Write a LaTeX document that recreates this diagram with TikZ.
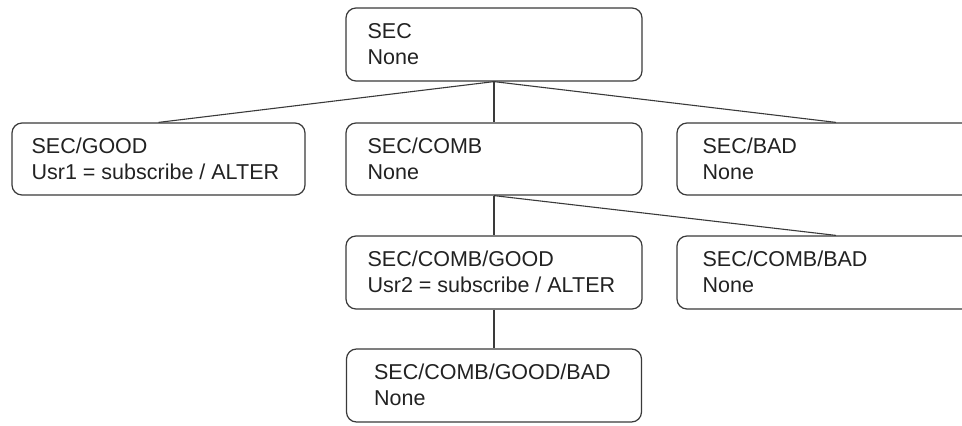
\documentclass[tikz,border=0pt]{standalone}
\usepackage{fontspec}
\setmainfont{Liberation Sans}
\usetikzlibrary{calc}
\definecolor{edgec}{HTML}{3A3A3A}
\definecolor{txtc}{HTML}{222222}
\begin{document}
\begin{tikzpicture}[x=1pt,y=-1pt,
  box/.style={draw=edgec,line width=1.2pt,rounded corners=10pt,minimum height=73pt,inner sep=0pt,fill=white},
  lbl/.style={anchor=base west,inner sep=0pt,text=txtc,font=\fontsize{21.5}{26}\selectfont},
  link/.style={draw=edgec,line width=1.1pt}]
\useasboundingbox (0,0) rectangle (962,426);
\clip (0,0) rectangle (962,426);
% boxes
\node[box,minimum width=296pt] (sec) at (494,44.5) {};
\node[box,minimum width=293pt,minimum height=72pt] (good) at (158.5,159) {};
\node[box,minimum width=296pt,minimum height=72pt] (comb) at (494,159) {};
\node[box,minimum width=318pt,minimum height=72pt] (bad) at (836,159) {};
\node[box,minimum width=296pt] (cgood) at (494,272.5) {};
\node[box,minimum width=318pt] (cbad) at (836,272.5) {};
\node[box,minimum width=295pt] (cgb) at (494,385.5) {};
% connectors
\draw[link] (sec.south) -- (good.north);
\draw[link] (sec.south) -- (comb.north);
\draw[link] (sec.south) -- (bad.north);
\draw[link] (comb.south) -- (cgood.north);
\draw[link] (comb.south) -- (cbad.north);
\draw[link] (cgood.south) -- (cgb.north);
% texts
\node[lbl] (t1a) at ($(sec.north west)+(22,31)$) {SEC};
\node[lbl] (t1b) at ($(sec.north west)+(22,57)$) {None};
\node[lbl] (t2a) at ($(good.north west)+(20,31)$) {SEC/GOOD};
\node[lbl] (t2b) at ($(good.north west)+(20,57)$) {Usr1 = subscribe / ALTER};
\node[lbl] (t3a) at ($(comb.north west)+(22,31)$) {SEC/COMB};
\node[lbl] (t3b) at ($(comb.north west)+(22,57)$) {None};
\node[lbl] (t4a) at ($(bad.north west)+(26,31)$) {SEC/BAD};
\node[lbl] (t4b) at ($(bad.north west)+(26,57)$) {None};
\node[lbl] (t5a) at ($(cgood.north west)+(22,31)$) {SEC/COMB/GOOD};
\node[lbl] (t5b) at ($(cgood.north west)+(22,57)$) {Usr2 = subscribe / ALTER};
\node[lbl] (t6a) at ($(cbad.north west)+(26,31)$) {SEC/COMB/BAD};
\node[lbl] (t6b) at ($(cbad.north west)+(26,57)$) {None};
\node[lbl] (t7a) at ($(cgb.north west)+(28,31)$) {SEC/COMB/GOOD/BAD};
\node[lbl] (t7b) at ($(cgb.north west)+(28,57)$) {None};
\end{tikzpicture}
\end{document}
